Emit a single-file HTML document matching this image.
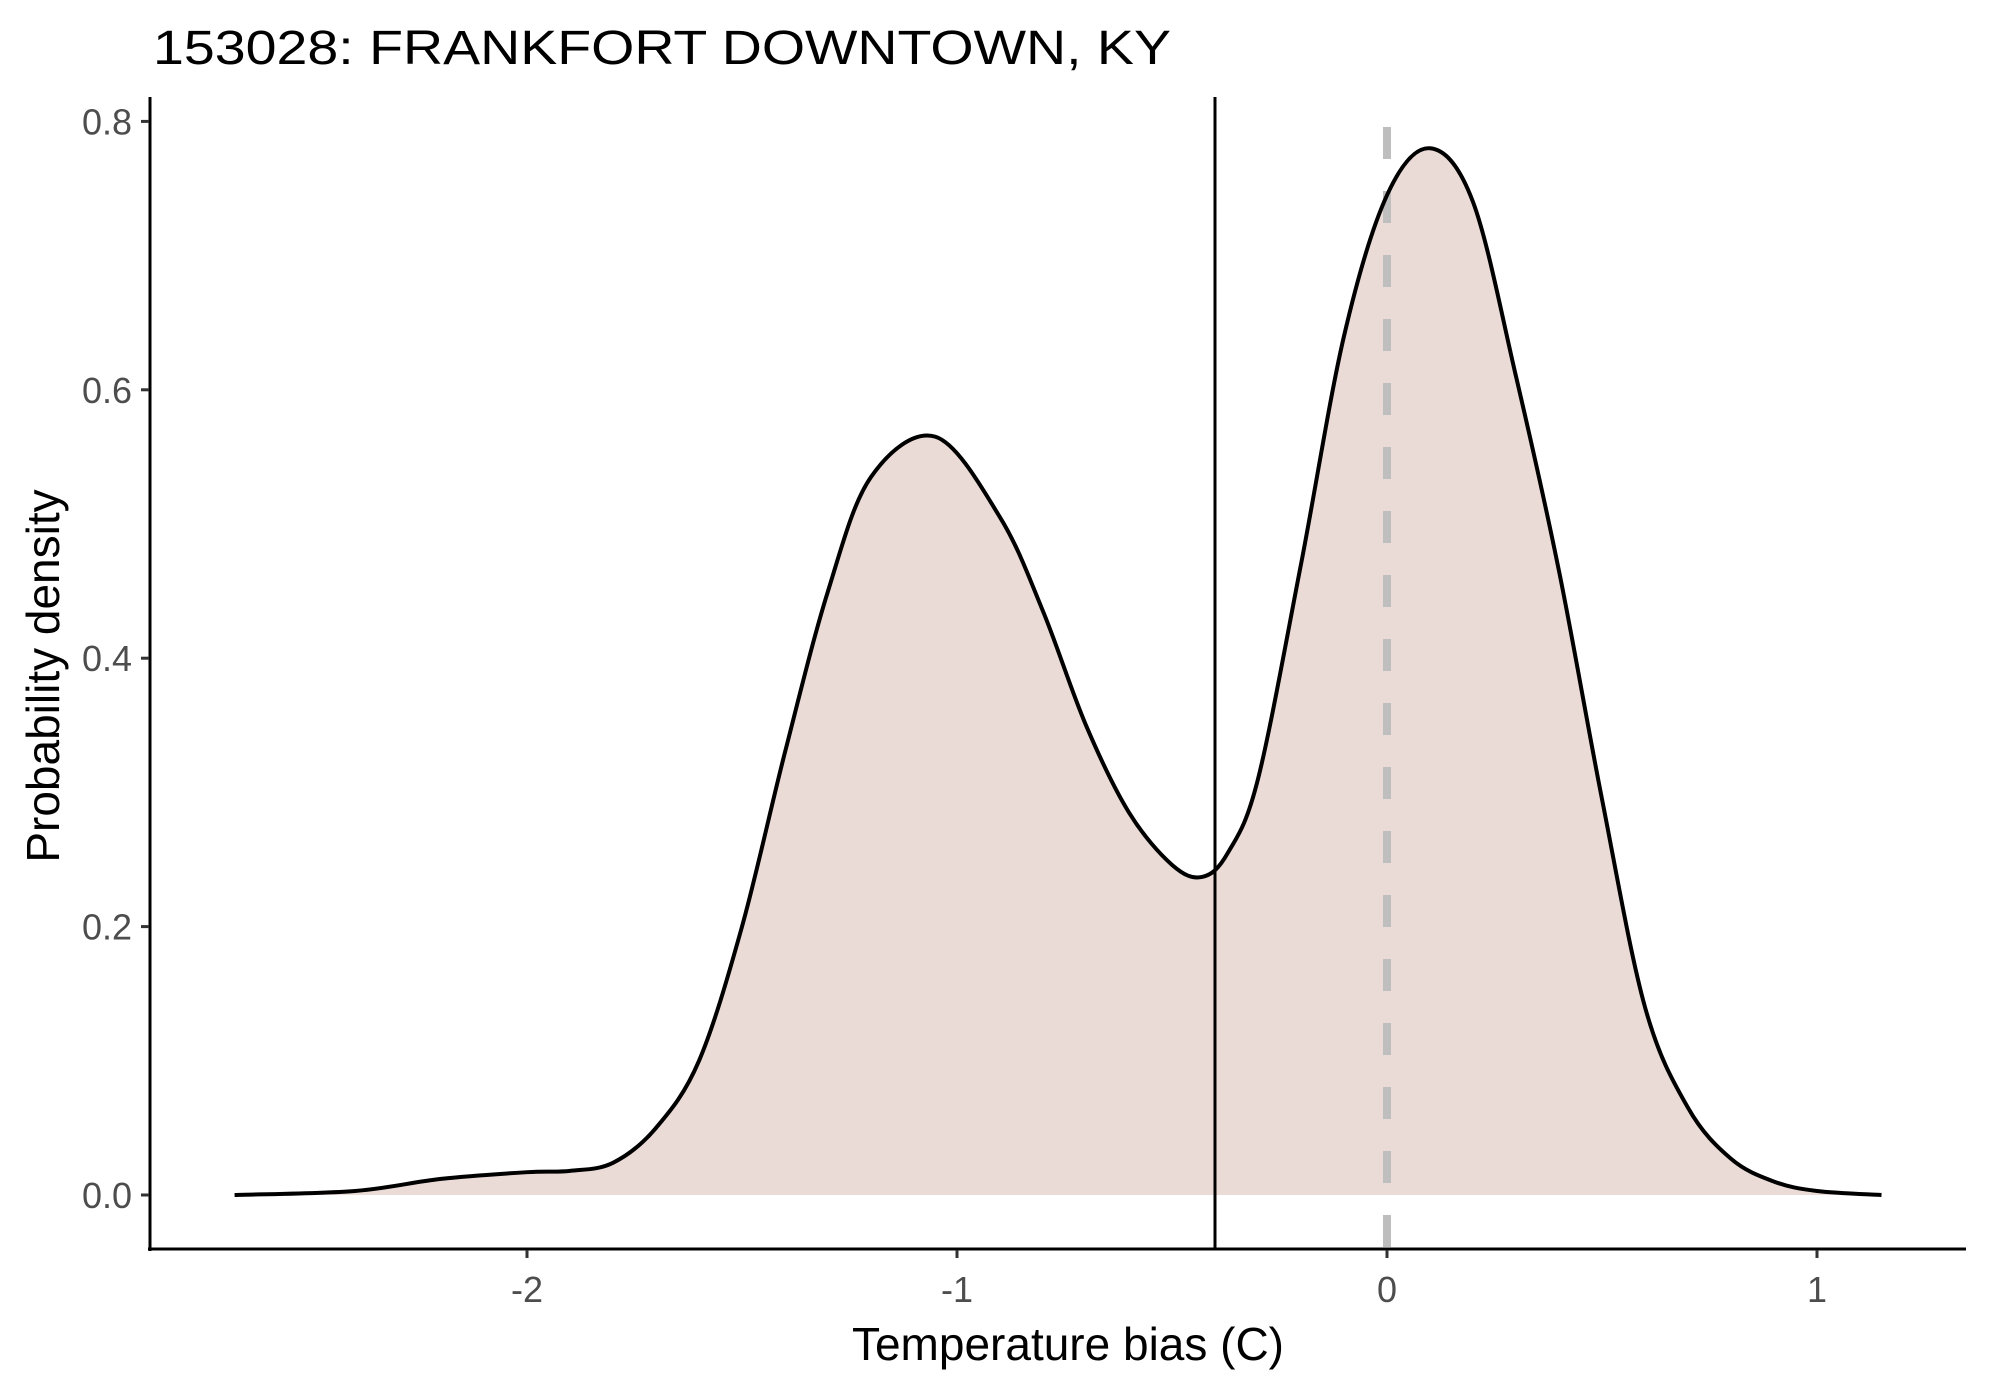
<!DOCTYPE html>
<html><head><meta charset="utf-8"><style>
html,body{margin:0;padding:0;background:#fff;}
svg{display:block;font-family:"Liberation Sans",Arial,sans-serif;}
</style></head><body>
<svg id="chart" width="1990" height="1384" viewBox="0 0 1990 1384">
<text x="153" y="64" font-size="48" fill="#000" textLength="1018" lengthAdjust="spacingAndGlyphs">153028: FRANKFORT DOWNTOWN, KY</text>
<g id="plot"></g>
<text x="1068" y="1360" font-size="46" text-anchor="middle" fill="#000">Temperature bias (C)</text>
<text x="0" y="0" font-size="46" text-anchor="middle" fill="#000" transform="translate(59,676) rotate(-90)">Probability density</text>
</svg>
<script>
const xs = [-2.68,-2.4,-2.2,-2.0,-1.9,-1.8,-1.7,-1.6,-1.5,-1.4,-1.3,-1.2,-1.05,-0.9,-0.8,-0.7,-0.6,-0.5,-0.43,-0.37,-0.3,-0.2,-0.1,0.0,0.1,0.2,0.3,0.4,0.5,0.6,0.7,0.8,0.9,1.0,1.15];
const ys = [0,0.003,0.012,0.017,0.018,0.024,0.05,0.10,0.2,0.33,0.45,0.535,0.565,0.505,0.435,0.35,0.285,0.246,0.237,0.255,0.31,0.47,0.64,0.745,0.78,0.74,0.61,0.465,0.295,0.14,0.065,0.027,0.01,0.003,0];
const xTicks = [-2,-1,0,1];
const xTickLabels = ["-2","-1","0","1"];
const yTicks = [0,0.2,0.4,0.6,0.8];
const yTickLabels = ["0.0","0.2","0.4","0.6","0.8"];
const meanBias = -0.4;
const refLine = 0;

const NS="http://www.w3.org/2000/svg";
const X = v => 1387 + v*430;
const Y = v => 1195 - v*1342;
const g = document.getElementById('plot');
function mk(t,a){const e=document.createElementNS(NS,t);for(const k in a)e.setAttribute(k,a[k]);g.appendChild(e);return e;}

const pts = xs.map((x,i)=>[X(x),Y(ys[i])]);
let d = `M${pts[0][0]},${pts[0][1]}`;
for(let i=0;i<pts.length-1;i++){
  const p0=pts[Math.max(0,i-1)],p1=pts[i],p2=pts[i+1],p3=pts[Math.min(pts.length-1,i+2)];
  const c1=[p1[0]+(p2[0]-p0[0])/6,p1[1]+(p2[1]-p0[1])/6];
  const c2=[p2[0]-(p3[0]-p1[0])/6,p2[1]-(p3[1]-p1[1])/6];
  d+=` C${c1[0]},${c1[1]} ${c2[0]},${c2[1]} ${p2[0]},${p2[1]}`;
}
const area = mk('path',{d:d+` L${pts[pts.length-1][0]},${Y(0)} L${pts[0][0]},${Y(0)} Z`,fill:'#ebdbd6',stroke:'none'});



const dash = mk('line',{x1:X(refLine),x2:X(refLine),y1:127,y2:1249,stroke:'#bebebe','stroke-width':8,'stroke-dasharray':'32 32'});



const curve = mk('path',{d:d,fill:'none',stroke:'#000','stroke-width':4,'stroke-linejoin':'round'});



const vl = mk('line',{x1:X(meanBias),x2:X(meanBias),y1:97,y2:1249,stroke:'#000','stroke-width':3});



const ya = mk('line',{x1:150,x2:150,y1:97,y2:1251,stroke:'#000','stroke-width':3});


const xa = mk('line',{x1:148,x2:1966,y1:1249,y2:1249,stroke:'#000','stroke-width':3});



xTicks.forEach((v,i)=>{
  const t = mk('line',{x1:X(v),x2:X(v),y1:1250,y2:1258,stroke:'#333','stroke-width':3});
  
  
  const l = mk('text',{x:X(v),y:1302,'font-size':36,'text-anchor':'middle',fill:'#4d4d4d'});
  l.textContent = xTickLabels[i];
  
  
});
yTicks.forEach((v,i)=>{
  const t = mk('line',{x1:141,x2:149,y1:Y(v),y2:Y(v),stroke:'#333','stroke-width':3});
  
  
  const l = mk('text',{x:132,y:Y(v)+13,'font-size':36,'text-anchor':'end',fill:'#4d4d4d'});
  l.textContent = yTickLabels[i];
  
  
});
</script>
</body></html>
